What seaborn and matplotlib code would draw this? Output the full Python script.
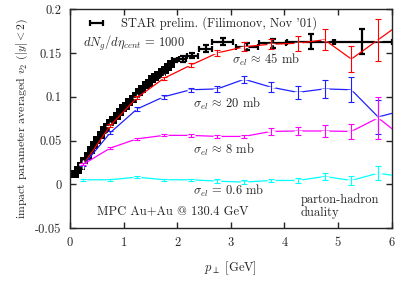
import numpy as np
import pandas as pd
import matplotlib
matplotlib.use('Agg')
import matplotlib.pyplot as plt
import seaborn as sns

# STAR data, dense part (squares)
star_pt = [0.09, 0.15, 0.21, 0.27, 0.33, 0.39, 0.45, 0.51, 0.57, 0.63, 0.69, 0.75,
           0.81, 0.87, 0.93, 0.99, 1.05, 1.11, 1.17, 1.23, 1.29, 1.35, 1.41, 1.47,
           1.53, 1.59, 1.65, 1.71, 1.77, 1.83, 1.89]
star_v2 = [0.012, 0.0165, 0.021, 0.0265, 0.033, 0.039, 0.045, 0.051, 0.056, 0.062, 0.066, 0.070,
           0.074, 0.078, 0.0826, 0.087, 0.090, 0.094, 0.098, 0.101, 0.105, 0.109, 0.113, 0.116,
           0.120, 0.123, 0.125, 0.128, 0.131, 0.134, 0.137]

# STAR data, high pt part (with bin widths)
star_hi_pt = [1.95, 2.10, 2.28, 2.53, 2.85, 3.30, 3.78, 4.50, 5.45]
star_hi_v2 = [0.1416, 0.143, 0.147, 0.155, 0.1625, 0.157, 0.161, 0.163, 0.163]
star_hi_xerr = [0.05, 0.07, 0.10, 0.12, 0.20, 0.20, 0.25, 0.45, 0.55]
star_hi_yerr = [0.002, 0.003, 0.003, 0.004, 0.004, 0.004, 0.005, 0.009, 0.014]

# MPC results
pt = [0.25, 0.75, 1.25, 1.75, 2.25, 2.75, 3.25, 3.75, 4.25, 4.75, 5.25, 5.75, 6.25]
v2_45 = [0.023, 0.067, 0.099, 0.121, 0.136, 0.150, 0.157, 0.160, 0.161, 0.165, 0.143, 0.165, 0.187]
err_45 = [0.001, 0.002, 0.002, 0.002, 0.002, 0.003, 0.005, 0.006, 0.0085, 0.012, 0.015, 0.024, 0.03]
v2_20 = [0.022, 0.059, 0.086, 0.100, 0.108, 0.109, 0.120, 0.111, 0.105, 0.109, 0.108, 0.077, 0.085]
err_20 = [0.001, 0.002, 0.002, 0.002, 0.002, 0.003, 0.004, 0.006, 0.0075, 0.010, 0.014, 0.019, 0.025]
v2_8 = [0.023, 0.0415, 0.052, 0.056, 0.056, 0.0548, 0.0548, 0.0605, 0.061, 0.061, 0.0605, 0.076, 0.052]
err_8 = [0.001, 0.001, 0.001, 0.001, 0.002, 0.002, 0.002, 0.004, 0.005, 0.007, 0.009, 0.024, 0.03]
v2_06 = [0.0054, 0.0054, 0.0084, 0.0054, 0.0054, 0.0038, 0.0027, 0.0046, 0.0046, 0.0091, 0.0046, 0.0129, 0.0084]
err_06 = [0.001, 0.001, 0.001, 0.001, 0.001, 0.002, 0.002, 0.002, 0.003, 0.004, 0.005, 0.008, 0.01]

series = [(v2_45, err_45, '#ff0000'), (v2_20, err_20, '#2020ff'),
          (v2_8, err_8, '#ff00ff'), (v2_06, err_06, '#00ffff')]

sns.set_style('ticks')
plt.rcParams['font.family'] = 'cmr10'
plt.rcParams['mathtext.fontset'] = 'cm'
plt.rcParams['axes.unicode_minus'] = False

fig = plt.figure(figsize=(4.07, 2.84), dpi=100)
ax = fig.add_axes([0.172, 0.196, 0.79, 0.772])

for v, e, c in series:
    d = pd.DataFrame({'pt': pt, 'v2': v})
    sns.lineplot(data=d, x='pt', y='v2', color=c, lw=0.9, marker='+', markersize=6,
                 markeredgewidth=1.0, ax=ax, zorder=3)
    ax.errorbar(pt, v, yerr=e, fmt='none', ecolor=c, elinewidth=0.8, capsize=2.5,
                capthick=0.8, zorder=3)

star = pd.DataFrame({'pt': star_pt, 'v2': star_v2})
sns.scatterplot(data=star, x='pt', y='v2', color='black', marker='s', s=36,
                edgecolor='black', linewidth=0, ax=ax, zorder=2)
ax.errorbar(star_hi_pt, star_hi_v2, xerr=star_hi_xerr, yerr=star_hi_yerr, fmt='none',
            ecolor='black', elinewidth=1.6, capsize=2.5, capthick=1.6, zorder=2)

# key, drawn by hand as in the original
ax.errorbar([0.082], [0.9375], xerr=[0.02], fmt='none', ecolor='black', elinewidth=1.6,
            capsize=2.5, capthick=1.6, transform=ax.transAxes, clip_on=False)
ax.text(0.158, 0.9375, "STAR prelim. (Filimonov, Nov '01)", fontsize=9, va='center',
        transform=ax.transAxes)

ax.set_xlim(0, 6)
ax.set_ylim(-0.05, 0.2)
ax.set_xticks([0, 1, 2, 3, 4, 5, 6])
ax.set_xticklabels(['0', '1', '2', '3', '4', '5', '6'])
ax.set_yticks([-0.05, 0, 0.05, 0.1, 0.15, 0.2])
ax.set_yticklabels(['-0.05', '0', '0.05', '0.1', '0.15', '0.2'])
ax.tick_params(direction='in', top=True, right=True, length=4, width=1,
               labelsize=9, pad=6)
for s in ax.spines.values():
    s.set_linewidth(1)

ax.set_xlabel(r'$p_\perp$ [GeV]', fontsize=9, labelpad=8)
ax.set_ylabel(r'impact parameter averaged $v_2$ $(|y|<2)$', fontsize=8.5, labelpad=4)

ax.text(0.24, 0.1606, r'$dN_g/d\eta_{cent}\,=\,1000$', fontsize=9, va='center')
ax.text(3.02, 0.1415, r'$\sigma_{el}\,\approx\,45$ mb', fontsize=9, va='center')
ax.text(2.3, 0.092, r'$\sigma_{el}\,\approx\,20$ mb', fontsize=9, va='center')
ax.text(2.3, 0.039, r'$\sigma_{el}\,\approx\,8$ mb', fontsize=9, va='center')
ax.text(2.3, -0.0075, r'$\sigma_{el}\,=\,0.6$ mb', fontsize=9, va='center')
ax.text(0.5, -0.0305, 'MPC Au+Au @ 130.4 GeV', fontsize=9, va='center')
ax.text(4.3, -0.0245, 'parton-hadron\nduality', fontsize=9, va='center',
        linespacing=1.0)

fig.savefig('out.png', dpi=100)
